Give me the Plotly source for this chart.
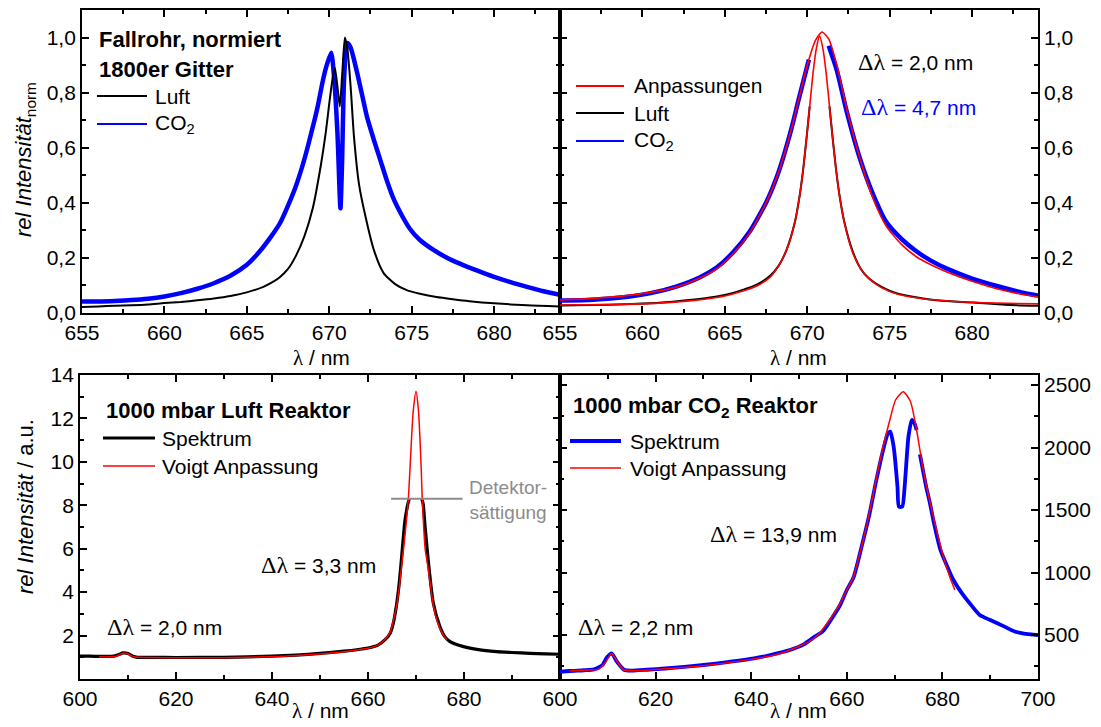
import plotly.graph_objects as go

# ---------------- data ----------------
# top-left panel: Fallrohr, normalised spectra
luft_lam = [655, 656, 657, 658, 659, 660, 661, 662, 663, 664, 665, 666, 666.5, 667, 667.5, 668, 668.5,
            669, 669.5, 669.8, 670.0, 670.2, 670.34, 670.5, 670.64, 670.8, 670.95, 671.1, 671.3, 671.5,
            671.8, 672.2, 672.7, 673.3, 674, 674.7, 675.5, 676.5, 677.5, 678.5, 680, 682, 684]
luft_val = [0.022, 0.024, 0.026, 0.028, 0.031, 0.036, 0.040, 0.046, 0.053, 0.062, 0.075, 0.095, 0.11,
            0.13, 0.16, 0.21, 0.28, 0.38, 0.54, 0.66, 0.76, 0.85, 0.89, 0.82, 0.75, 0.88, 1.0, 0.96,
            0.82, 0.64, 0.47, 0.35, 0.23, 0.145, 0.105, 0.083, 0.07, 0.058, 0.05, 0.043, 0.035, 0.028, 0.024]

co2_lam = [655, 656, 657, 658, 659, 660, 661, 662, 663, 664, 665, 665.8, 666.5, 667, 667.5, 668, 668.5,
           669, 669.3, 669.6, 669.8, 670.12, 670.3, 670.5, 670.68, 670.78, 670.9, 671.09, 671.29, 671.5,
           671.7, 672, 672.3, 672.7, 673.1, 673.5, 673.9, 674.4, 674.9, 675.5, 676.3, 677, 677.5, 678.5,
           679.5, 680, 681, 682, 683, 684]
co2_val = [0.042, 0.042, 0.044, 0.047, 0.052, 0.060, 0.072, 0.088, 0.108, 0.135, 0.175, 0.225, 0.28,
           0.325, 0.39, 0.465, 0.56, 0.675, 0.75, 0.84, 0.89, 0.945, 0.85, 0.65, 0.38, 0.55, 0.85, 0.98,
           0.965, 0.92, 0.87, 0.79, 0.71, 0.63, 0.555, 0.48, 0.415, 0.355, 0.305, 0.265, 0.23, 0.205,
           0.19, 0.165, 0.142, 0.131, 0.112, 0.095, 0.079, 0.066]

# top-right panel: spectra (peak region not shown) and fits
luft_tr_lam = [655, 657, 659, 661, 663, 664, 665, 666, 667, 667.75, 668.25, 668.75, 669.25, 669.55,
               669.75, 669.95, 670.15, None, 671.35, 671.55, 671.75, 671.95, 672.25, 672.75, 673.25,
               673.75, 674.5, 675.5, 676.5, 678, 680, 682, 684]
luft_tr_val = [0.027, 0.029, 0.032, 0.037, 0.048, 0.055, 0.065, 0.082, 0.105, 0.135, 0.17, 0.23, 0.33,
               0.43, 0.52, 0.63, 0.75, None, 0.75, 0.63, 0.52, 0.43, 0.33, 0.225, 0.16, 0.125, 0.095,
               0.07, 0.058, 0.045, 0.038, 0.03, 0.026]

co2_tr_lam = [655, 657, 659, 660.5, 662, 663.5, 664.5, 665.5, 666.5, 667.5, 668.25, 669, 669.5, 670.1,
              None, 671.3, 671.8, 672.4, 673.2, 674, 674.8, 675.7, 676.6, 677.5, 678.5, 680, 681.5, 683, 684]
co2_tr_val = [0.045, 0.048, 0.058, 0.072, 0.095, 0.13, 0.165, 0.22, 0.295, 0.40, 0.51, 0.66, 0.78, 0.92,
              None, 0.97, 0.88, 0.73, 0.56, 0.43, 0.33, 0.27, 0.225, 0.19, 0.16, 0.125, 0.098, 0.075, 0.063]

fit_luft_lam = [655, 658, 661, 663, 664, 665, 666, 667, 667.75, 668.25, 668.75, 669.25, 669.55, 669.75,
                669.95, 670.15, 670.35, 670.55, 670.75, 670.95, 671.15, 671.35, 671.55, 671.75, 671.95,
                672.25, 672.75, 673.25, 673.75, 674.5, 675.5, 677, 679, 681.5, 684]
fit_luft_val = [0.029, 0.031, 0.036, 0.045, 0.052, 0.062, 0.078, 0.10, 0.13, 0.17, 0.23, 0.33, 0.43, 0.52,
                0.63, 0.75, 0.87, 0.96, 1.005, 0.96, 0.87, 0.75, 0.63, 0.52, 0.43, 0.33, 0.22, 0.16,
                0.125, 0.092, 0.068, 0.052, 0.042, 0.036, 0.033]

fit_co2_lam = [655, 657, 659, 660.5, 662, 663.5, 664.5, 665.5, 666.5, 667.5, 668.25, 669, 669.5, 670,
               670.5, 670.9, 671.3, 671.8, 672.4, 673.2, 674.0, 674.8, 675.7, 676.6, 677.5, 678.5, 680,
               681.5, 683, 684]
fit_co2_val = [0.047, 0.053, 0.063, 0.075, 0.093, 0.127, 0.16, 0.215, 0.29, 0.40, 0.51, 0.66, 0.78, 0.90,
               0.99, 1.02, 0.995, 0.90, 0.74, 0.56, 0.415, 0.315, 0.25, 0.205, 0.175, 0.148, 0.115,
               0.088, 0.068, 0.058]

# bottom-left: 1000 mbar Luft Reaktor (spectrum clipped at detector saturation)
bl_spec_lam = [600, 602, 605, 607, 608, 609, 610, 611, 612, 615, 620, 630, 640, 645, 650, 655, 658, 660,
               662, 663.5, 664.6, 665.3, 666, 666.5, 667, 667.7, 668.3, 668.6, None, 671.2, 671.5, 671.9,
               672.6, 673.6, 675, 676, 677.1, 679.9, 683, 686.8, 690, 693.75, 697, 700]
bl_spec_val = [1.05, 1.05, 1.04, 1.05, 1.12, 1.2, 1.17, 1.05, 1.0, 1.0, 0.99, 1.0, 1.05, 1.1, 1.18, 1.28,
               1.36, 1.43, 1.55, 1.8, 2.1, 2.6, 3.5, 4.4, 5.6, 7.3, 8.05, 8.3, None, 8.3, 8.05, 7.0, 5.35,
               3.5, 2.4, 1.95, 1.72, 1.49, 1.35, 1.26, 1.22, 1.18, 1.16, 1.14]

bl_fit_lam = [604, 606, 607.5, 608.5, 609.2, 610, 611, 612, 620, 630, 640, 645, 650, 655, 658, 660, 662,
              663.5, 664.6, 665.3, 666, 666.5, 667, 667.7, 668.4, 668.8, 669.1, 669.45, 670, 670.5, 670.8,
              671.1, 671.3, 671.6, 671.9, 672.6, 673.6, 674.5, 675.5, 676.4]
bl_fit_val = [1.02, 1.02, 1.05, 1.15, 1.2, 1.15, 1.03, 1.0, 0.98, 0.98, 1.03, 1.08, 1.15, 1.25, 1.35,
              1.42, 1.55, 1.82, 2.15, 2.7, 3.4, 4.2, 5.2, 6.6, 8.3, 9.9, 11.2, 12.4, 13.25, 12.4, 11.2,
              9.6, 8.3, 7.0, 6.0, 5.0, 3.4, 2.6, 2.1, 1.8]

# bottom-right: 1000 mbar CO2 Reaktor
br_spec_lam = [600, 602, 605, 607.1, 608.9, 609.8, 610.8, 611.9, 613.4, 615, 618.2, 622, 626, 630.1, 635,
               640.6, 644, 648.1, 651, 653.3, 655, 657.1, 658.6, 660, 661.4, 663.1, 664.7, 666.1, 667.6,
               668.6, 669.1, 669.8, 670.6, 670.9, 671.6, 672.1, 672.9, 673.6, 674.2, 674.6, 674.9, 675.3,
               676.6, 677.4, 678.1, 679.6, 681, 682.3, 684.1, 686, 687.8, 690, 693, 695, 696.8, 698.5, 700]
br_spec_val = [205, 212, 218, 225, 260, 320, 353, 287, 222, 215, 222, 232, 245, 260, 283, 313, 340, 380,
               425, 487, 530, 647, 740, 860, 960, 1207, 1460, 1725, 1980, 2113, 2127, 2007, 1687, 1527,
               1527, 1687, 2087, 2220, 2190, 2140, None, 1945, 1687, 1553, 1420, 1180, 1050, 940, 833,
               740, 660, 620, 567, 530, 513, 505, 500]

br_fit_lam = [602, 606, 608, 609.5, 610.8, 612, 613.3, 616, 620, 630, 640, 645, 650, 653, 654.4, 656,
              658.6, 660, 661.4, 662.5, 663.45, 664.85, 666.25, 667.6, 669, 670.2, 671.8, 673.3, 674.6,
              676, 678.1, 680.2, 681.5, 682.6]
br_fit_val = [215, 220, 225, 280, 355, 285, 222, 215, 225, 255, 305, 340, 410, 470, 520, 600, 753, 860,
              967, 1120, 1260, 1500, 1767, 2007, 2220, 2380, 2447, 2370, 2140, 1820, 1447, 1127, 970, 860]

# tick values / labels
top_x_ticks = [655, 660, 665, 670, 675, 680]
top_x_text = ["655", "660", "665", "670", "675", "680"]
top_x_minor = [657.5, 662.5, 667.5, 672.5, 677.5, 682.5]
top_y_ticks = [0.0, 0.2, 0.4, 0.6, 0.8, 1.0]
top_y_text = ["0,0", "0,2", "0,4", "0,6", "0,8", "1,0"]
top_y_minor = [0.1, 0.3, 0.5, 0.7, 0.9]
bl_x_ticks = [600, 620, 640, 660, 680]
bl_x_text = ["600", "620", "640", "660", "680"]
br_x_ticks = [600, 620, 640, 660, 680, 700]
br_x_text = ["600", "620", "640", "660", "680", "700"]
bot_x_minor = [610, 630, 650, 670, 690]
bl_y_ticks = [2, 4, 6, 8, 10, 12, 14]
bl_y_text = ["2", "4", "6", "8", "10", "12", "14"]
bl_y_minor = [1, 3, 5, 7, 9, 11, 13]
br_y_ticks = [500, 1000, 1500, 2000, 2500]
br_y_text = ["500", "1000", "1500", "2000", "2500"]
br_y_minor = [250, 750, 1250, 1750, 2250]

# ---------------- figure ----------------
W, H = 1101, 727
FONT = "Liberation Sans, Arial, Helvetica, sans-serif"
SERIF = "Liberation Serif, Times New Roman, serif"
BLUE = "rgb(0,0,255)"
RED = "rgb(255,0,0)"
GREY = "rgb(140,140,140)"


def px(x):
    return x / W


def py(y):
    return 1 - y / H


fig = go.Figure()
sp = dict(shape="spline", smoothing=0.6)


def line(x, y, color, width, xa, ya):
    fig.add_trace(go.Scatter(x=x, y=y, mode="lines", line=dict(color=color, width=width, **sp),
                             xaxis=xa, yaxis=ya, showlegend=False, connectgaps=False,
                             hoverinfo="skip"))


# TL
line(co2_lam, co2_val, BLUE, 4.5, "x", "y")
line(luft_lam, luft_val, "black", 2.0, "x", "y")
# TR
line(co2_tr_lam, co2_tr_val, BLUE, 4.5, "x2", "y2")
line(luft_tr_lam, luft_tr_val, "black", 2.0, "x2", "y2")
line(fit_co2_lam, fit_co2_val, RED, 1.6, "x2", "y2")
line(fit_luft_lam, fit_luft_val, RED, 1.6, "x2", "y2")
# BL
line(bl_spec_lam, bl_spec_val, "black", 3.2, "x3", "y3")
line(bl_fit_lam, bl_fit_val, RED, 1.5, "x3", "y3")
# BR
line(br_spec_lam, br_spec_val, BLUE, 3.8, "x4", "y4")
line(br_fit_lam, br_fit_val, RED, 1.5, "x4", "y4")


def ax(rng, dom, tv, tt, minor, **kw):
    d = dict(range=rng, domain=dom, tickmode="array", tickvals=tv, ticktext=tt,
             showline=True, linecolor="black", linewidth=1.8, mirror="ticks",
             ticks="inside", ticklen=7, tickwidth=1.5, tickcolor="black",
             showgrid=False, zeroline=False, automargin=False, fixedrange=True,
             tickfont=dict(family=FONT, size=21, color="black"), ticklabelstandoff=0,
             minor=dict(tickmode="array", tickvals=minor, ticks="inside", ticklen=4,
                        tickwidth=1.5, tickcolor="black", showgrid=False))
    d.update(kw)
    return d


xL = [px(82), px(560)]
xLb = [px(80), px(560)]
xR = [px(560), px(1038)]
yT = [py(313), py(10)]
yB = [py(679), py(375)]

fig.update_layout(
    width=W, height=H, margin=dict(l=0, r=0, t=0, b=0),
    paper_bgcolor="white", plot_bgcolor="white",
    font=dict(family=FONT, size=21, color="black"),
    xaxis=ax([655, 684], xL, top_x_ticks, top_x_text, top_x_minor, anchor="y"),
    yaxis=ax([0, 1.1], yT, top_y_ticks, top_y_text, top_y_minor, anchor="x"),
    xaxis2=ax([655, 684], xR, top_x_ticks, top_x_text, top_x_minor, anchor="y2"),
    yaxis2=ax([0, 1.1], yT, top_y_ticks, top_y_text, top_y_minor, anchor="x2", side="right"),
    xaxis3=ax([600, 700], xLb, bl_x_ticks, bl_x_text, bot_x_minor, anchor="y3"),
    yaxis3=ax([0, 14], yB, bl_y_ticks, bl_y_text, bl_y_minor, anchor="x3"),
    xaxis4=ax([600, 700], xR, br_x_ticks, br_x_text, bot_x_minor, anchor="y4"),
    yaxis4=ax([148, 2580], yB, br_y_ticks, br_y_text, br_y_minor, anchor="x4", side="right"),
)

ann = []
shapes = []


def text(x, y, s, size=21, color="black", xanchor="left", angle=0):
    ann.append(dict(x=px(x), y=py(y), xref="paper", yref="paper", text=s, showarrow=False,
                    xanchor=xanchor, yanchor="middle", textangle=angle,
                    font=dict(family=FONT, size=size, color=color)))


def legline(x0, x1, y, color, width):
    shapes.append(dict(type="line", xref="paper", yref="paper", x0=px(x0), x1=px(x1), y0=py(y), y1=py(y),
                       line=dict(color=color, width=width)))


dl = '<span style="font-family:%s;font-size:24px">Δλ</span>' % SERIF
lam = '<span style="font-family:%s">λ</span>' % SERIF

# axis titles
text(321, 358, lam + " / nm", size=21, xanchor="center")
text(799, 358, lam + " / nm", size=21, xanchor="center")
text(320, 711, lam + " / nm", size=21, xanchor="center")
text(799, 711, lam + " / nm", size=21, xanchor="center")
text(25, 160, "<i>rel Intensität</i><sub>norm</sub>", size=22, xanchor="center", angle=-90)
text(25, 507, "<i>rel Intensität</i> / a.u.", size=22, xanchor="center", angle=-90)

# TL legend
text(97, 40, "<b>Fallrohr, normiert</b>", size=22)
text(97, 69, "<b>1800er Gitter</b>", size=22)
legline(97, 147, 96, "black", 1.8)
text(153, 96, "Luft")
legline(97, 147, 124, BLUE, 1.8)
text(153, 124, "CO<sub>2</sub>")

# TR legend + annotations
legline(576, 624, 86, RED, 1.8)
text(632, 86, "Anpassungen")
legline(576, 624, 113, "black", 1.8)
text(632, 113, "Luft")
legline(576, 624, 141, BLUE, 1.8)
text(632, 141, "CO<sub>2</sub>")
text(856, 62, dl + " = 2,0 nm")
text(859, 107, dl + " = 4,7 nm", color=BLUE)

# BL
text(104, 410, "<b>1000 mbar Luft Reaktor</b>", size=22)
legline(103, 155, 438, "black", 3.2)
text(160, 438, "Spektrum")
legline(103, 155, 466, RED, 1.6)
text(160, 466, "Voigt Anpassung")
text(259, 565, dl + " = 3,3 nm")
text(105, 627, dl + " = 2,0 nm")
text(467, 500, "Detektor-<br>sättigung", size=19, color=GREY)
shapes.append(dict(type="line", xref="x3", yref="y3", x0=664.8, x1=679.7, y0=8.3, y1=8.3,
                   line=dict(color=GREY, width=2)))

# BR
text(571, 407, "<b>1000 mbar CO<sub>2</sub> Reaktor</b>", size=22)
legline(570, 621, 441, BLUE, 3.8)
text(628, 441, "Spektrum")
legline(570, 621, 468, RED, 1.6)
text(628, 468, "Voigt Anpassung")
text(708, 534, dl + " = 13,9 nm")
text(576, 627, dl + " = 2,2 nm")

fig.update_layout(annotations=ann, shapes=shapes)
fig.write_html("out.html")
